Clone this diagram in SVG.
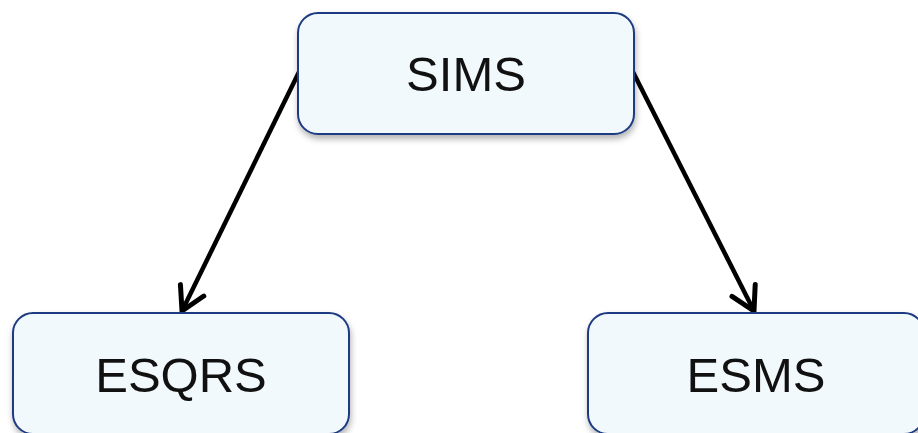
<svg xmlns="http://www.w3.org/2000/svg" width="918" height="433" viewBox="0 0 918 433">
<defs>
<style>
.node{fill:#f2f9fd;stroke:#1f3b82;stroke-width:2;filter:url(#sh)}
.lbl{font-family:"Liberation Sans",Arial,sans-serif;font-size:49px;fill:#111;text-anchor:middle}
.edge{stroke:#000;stroke-width:4.5;fill:none;marker-end:url(#arr)}
</style>
<filter id="sh" x="-10%" y="-10%" width="125%" height="140%">
<feDropShadow dx="1" dy="4" stdDeviation="3" flood-color="#000" flood-opacity="0.3"/>
</filter>
<marker id="arr" markerUnits="userSpaceOnUse" viewBox="-30 -18 34 36" markerWidth="34" markerHeight="36" refX="0" refY="0" orient="auto">
<path d="M-23,-13 L0,0 L-23,13" fill="none" stroke="#000" stroke-width="5" stroke-linecap="round" stroke-linejoin="miter"/>
</marker>
</defs>
<rect width="918" height="433" fill="#fff"/>
<g id="connectors">
<line class="edge" x1="299" y1="72" x2="182" y2="311"/>
<line class="edge" x1="633" y1="72" x2="754" y2="311"/>
</g>
<g id="node-sims">
<rect class="node" x="298" y="13" width="336" height="121" rx="20"/>
<text class="lbl" x="466" y="91">SIMS</text>
</g>
<g id="node-esqrs">
<rect class="node" x="13" y="313" width="336" height="121" rx="20"/>
<text class="lbl" x="181" y="392">ESQRS</text>
</g>
<g id="node-esms">
<rect class="node" x="588" y="313" width="336" height="121" rx="20"/>
<text class="lbl" x="756" y="392">ESMS</text>
</g>
</svg>
